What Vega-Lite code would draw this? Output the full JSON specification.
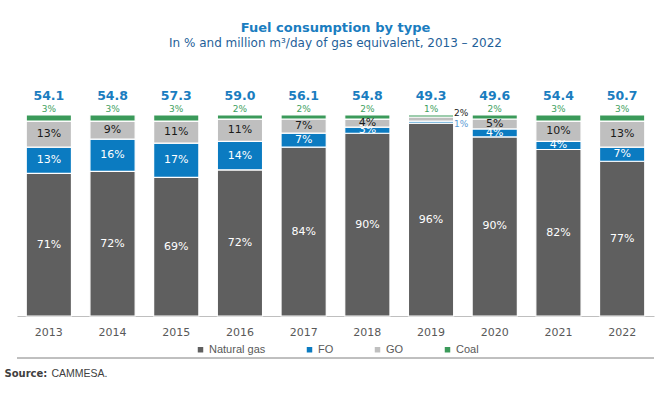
{
  "$schema": "https://vega.github.io/schema/vega-lite/v6.json",
  "autosize": {"type": "none"},
  "width": 637,
  "height": 201,
  "padding": {"left": 17, "top": 115, "right": 14, "bottom": 77},
  "background": "white",
  "title": {
    "text": "Fuel consumption by type",
    "subtitle": "In % and million m³/day of gas equivalent, 2013 – 2022",
    "anchor": "middle",
    "frame": "group",
    "font": "DejaVu Sans",
    "fontSize": 13,
    "fontWeight": "bold",
    "color": "#1a7dc0",
    "subtitleFont": "DejaVu Sans",
    "subtitleFontSize": 12,
    "subtitleColor": "#1f5f99",
    "subtitlePadding": 3,
    "offset": 41
  },
  "config": {
    "view": {"stroke": null},
    "axisX": {
      "labelFont": "DejaVu Sans",
      "labelFontSize": 11,
      "labelColor": "#595959",
      "labelPadding": 10,
      "labelAngle": 0,
      "ticks": false,
      "tickSize": 0,
      "grid": false,
      "domainColor": "#bfbfbf",
      "titleFont": "Liberation Sans",
      "titleFontSize": 10.5,
      "titleFontWeight": "normal",
      "titleColor": "#404040",
      "titleX": 34,
      "titleY": 60,
      "titleAlign": "left",
      "titleBaseline": "alphabetic"
    },
    "axisY": {
      "labels": false,
      "ticks": false,
      "domain": false,
      "grid": false,
      "titleFont": "DejaVu Sans",
      "titleFontSize": 10,
      "titleFontWeight": "bold",
      "titleColor": "#404040",
      "titleAngle": 0,
      "titleX": -13,
      "titleY": 261,
      "titleAlign": "left",
      "titleBaseline": "alphabetic"
    }
  },
  "datasets": {
    "fuel": [
      {"year": "2013", "fuel": "Natural gas", "ord": 1, "share": 0.71},
      {"year": "2013", "fuel": "FO", "ord": 2, "share": 0.13},
      {"year": "2013", "fuel": "GO", "ord": 3, "share": 0.13},
      {"year": "2013", "fuel": "Coal", "ord": 4, "share": 0.03},
      {"year": "2014", "fuel": "Natural gas", "ord": 1, "share": 0.72},
      {"year": "2014", "fuel": "FO", "ord": 2, "share": 0.16},
      {"year": "2014", "fuel": "GO", "ord": 3, "share": 0.09},
      {"year": "2014", "fuel": "Coal", "ord": 4, "share": 0.03},
      {"year": "2015", "fuel": "Natural gas", "ord": 1, "share": 0.69},
      {"year": "2015", "fuel": "FO", "ord": 2, "share": 0.17},
      {"year": "2015", "fuel": "GO", "ord": 3, "share": 0.11},
      {"year": "2015", "fuel": "Coal", "ord": 4, "share": 0.03},
      {"year": "2016", "fuel": "Natural gas", "ord": 1, "share": 0.72},
      {"year": "2016", "fuel": "FO", "ord": 2, "share": 0.14},
      {"year": "2016", "fuel": "GO", "ord": 3, "share": 0.11},
      {"year": "2016", "fuel": "Coal", "ord": 4, "share": 0.02},
      {"year": "2017", "fuel": "Natural gas", "ord": 1, "share": 0.84},
      {"year": "2017", "fuel": "FO", "ord": 2, "share": 0.07},
      {"year": "2017", "fuel": "GO", "ord": 3, "share": 0.07},
      {"year": "2017", "fuel": "Coal", "ord": 4, "share": 0.02},
      {"year": "2018", "fuel": "Natural gas", "ord": 1, "share": 0.90},
      {"year": "2018", "fuel": "FO", "ord": 2, "share": 0.03},
      {"year": "2018", "fuel": "GO", "ord": 3, "share": 0.04},
      {"year": "2018", "fuel": "Coal", "ord": 4, "share": 0.02},
      {"year": "2019", "fuel": "Natural gas", "ord": 1, "share": 0.96},
      {"year": "2019", "fuel": "FO", "ord": 2, "share": 0.01},
      {"year": "2019", "fuel": "GO", "ord": 3, "share": 0.02},
      {"year": "2019", "fuel": "Coal", "ord": 4, "share": 0.01},
      {"year": "2020", "fuel": "Natural gas", "ord": 1, "share": 0.90},
      {"year": "2020", "fuel": "FO", "ord": 2, "share": 0.04},
      {"year": "2020", "fuel": "GO", "ord": 3, "share": 0.05},
      {"year": "2020", "fuel": "Coal", "ord": 4, "share": 0.02},
      {"year": "2021", "fuel": "Natural gas", "ord": 1, "share": 0.82},
      {"year": "2021", "fuel": "FO", "ord": 2, "share": 0.04},
      {"year": "2021", "fuel": "GO", "ord": 3, "share": 0.10},
      {"year": "2021", "fuel": "Coal", "ord": 4, "share": 0.03},
      {"year": "2022", "fuel": "Natural gas", "ord": 1, "share": 0.77},
      {"year": "2022", "fuel": "FO", "ord": 2, "share": 0.07},
      {"year": "2022", "fuel": "GO", "ord": 3, "share": 0.13},
      {"year": "2022", "fuel": "Coal", "ord": 4, "share": 0.03}
    ],
    "totals": [
      {"year": "2013", "total": 54.1},
      {"year": "2014", "total": 54.8},
      {"year": "2015", "total": 57.3},
      {"year": "2016", "total": 59.0},
      {"year": "2017", "total": 56.1},
      {"year": "2018", "total": 54.8},
      {"year": "2019", "total": 49.3},
      {"year": "2020", "total": 49.6},
      {"year": "2021", "total": 54.4},
      {"year": "2022", "total": 50.7}
    ]
  },
  "layer": [
    {
      "data": {"name": "fuel"},
      "mark": {"type": "bar", "stroke": "white", "strokeWidth": 1.2},
      "encoding": {
        "x": {"field": "year", "type": "nominal", "title": "CAMMESA.", "scale": {"paddingInner": 0.29, "paddingOuter": 0.145}},
        "y": {"field": "share", "type": "quantitative", "stack": "normalize", "scale": {"domain": [0, 1]}, "title": "Source:"},
        "color": {
          "field": "fuel",
          "type": "nominal",
          "scale": {"domain": ["Natural gas", "FO", "GO", "Coal"], "range": ["#5f5f5f", "#0b7bc1", "#bfbfbf", "#3b9a5a"]},
          "legend": {
            "orient": "none",
            "legendX": 178,
            "legendY": 229,
            "direction": "horizontal",
            "title": null,
            "symbolType": "square",
            "symbolSize": 30,
            "symbolStrokeWidth": 0,
            "labelFont": "Liberation Sans",
            "labelFontSize": 11,
            "labelColor": "#595959",
            "labelOffset": 3,
            "columnPadding": 38
          }
        },
        "order": {"field": "ord", "type": "quantitative"}
      }
    },
    {
      "data": {"name": "fuel"},
      "mark": {"type": "text", "font": "DejaVu Sans", "fontSize": 11, "baseline": "middle"},
      "encoding": {
        "x": {"field": "year", "type": "nominal", "title": "CAMMESA."},
        "y": {"field": "share", "type": "quantitative", "stack": "normalize", "bandPosition": 0.5, "title": "Source:"},
        "detail": {"field": "fuel", "type": "nominal"},
        "order": {"field": "ord", "type": "quantitative"},
        "text": {"condition": {"test": "datum.fuel === 'Natural gas' || (datum.fuel !== 'Coal' && datum.year !== '2019')", "field": "share", "type": "quantitative", "format": ".0%"}, "value": ""},
        "color": {"condition": {"test": "datum.fuel === 'GO'", "value": "#1a1a1a"}, "value": "#ffffff"}
      }
    },
    {
      "data": {"name": "fuel"},
      "mark": {"type": "text", "font": "DejaVu Sans", "fontSize": 9, "baseline": "middle", "align": "left", "dx": 23, "dy": 2, "color": "#5b9bd5"},
      "encoding": {
        "x": {"field": "year", "type": "nominal", "title": "CAMMESA."},
        "y": {"field": "share", "type": "quantitative", "stack": "normalize", "bandPosition": 0.5, "title": "Source:"},
        "detail": {"field": "fuel", "type": "nominal"},
        "order": {"field": "ord", "type": "quantitative"},
        "text": {"condition": {"test": "datum.year === '2019' && datum.fuel === 'FO'", "field": "share", "type": "quantitative", "format": ".0%"}, "value": ""}
      }
    },
    {
      "data": {"name": "fuel"},
      "mark": {"type": "text", "font": "DejaVu Sans", "fontSize": 9, "baseline": "middle", "align": "left", "dx": 23, "dy": -6, "color": "#1a1a1a"},
      "encoding": {
        "x": {"field": "year", "type": "nominal", "title": "CAMMESA."},
        "y": {"field": "share", "type": "quantitative", "stack": "normalize", "bandPosition": 0.5, "title": "Source:"},
        "detail": {"field": "fuel", "type": "nominal"},
        "order": {"field": "ord", "type": "quantitative"},
        "text": {"condition": {"test": "datum.year === '2019' && datum.fuel === 'GO'", "field": "share", "type": "quantitative", "format": ".0%"}, "value": ""}
      }
    },
    {
      "data": {"name": "fuel"},
      "transform": [{"filter": "datum.fuel === 'Coal'"}],
      "mark": {"type": "text", "font": "DejaVu Sans", "fontSize": 9, "baseline": "alphabetic", "dy": -3, "color": "#3ea060"},
      "encoding": {
        "x": {"field": "year", "type": "nominal", "title": "CAMMESA."},
        "y": {"datum": 1, "type": "quantitative", "title": "Source:"},
        "text": {"field": "share", "type": "quantitative", "format": ".0%"}
      }
    },
    {
      "data": {"name": "totals"},
      "mark": {"type": "text", "font": "DejaVu Sans", "fontSize": 12.5, "fontWeight": "bold", "baseline": "alphabetic", "dy": -15, "color": "#1a7dc0"},
      "encoding": {
        "x": {"field": "year", "type": "nominal", "title": "CAMMESA."},
        "y": {"datum": 1, "type": "quantitative", "title": "Source:"},
        "text": {"field": "total", "type": "quantitative", "format": ".1f"}
      }
    },
    {
      "data": {"values": [{"sep": 1}]},
      "mark": {"type": "rule", "color": "#808080", "strokeWidth": 1},
      "encoding": {
        "y": {"datum": -0.209, "type": "quantitative", "title": "Source:"}
      }
    }
  ]
}
